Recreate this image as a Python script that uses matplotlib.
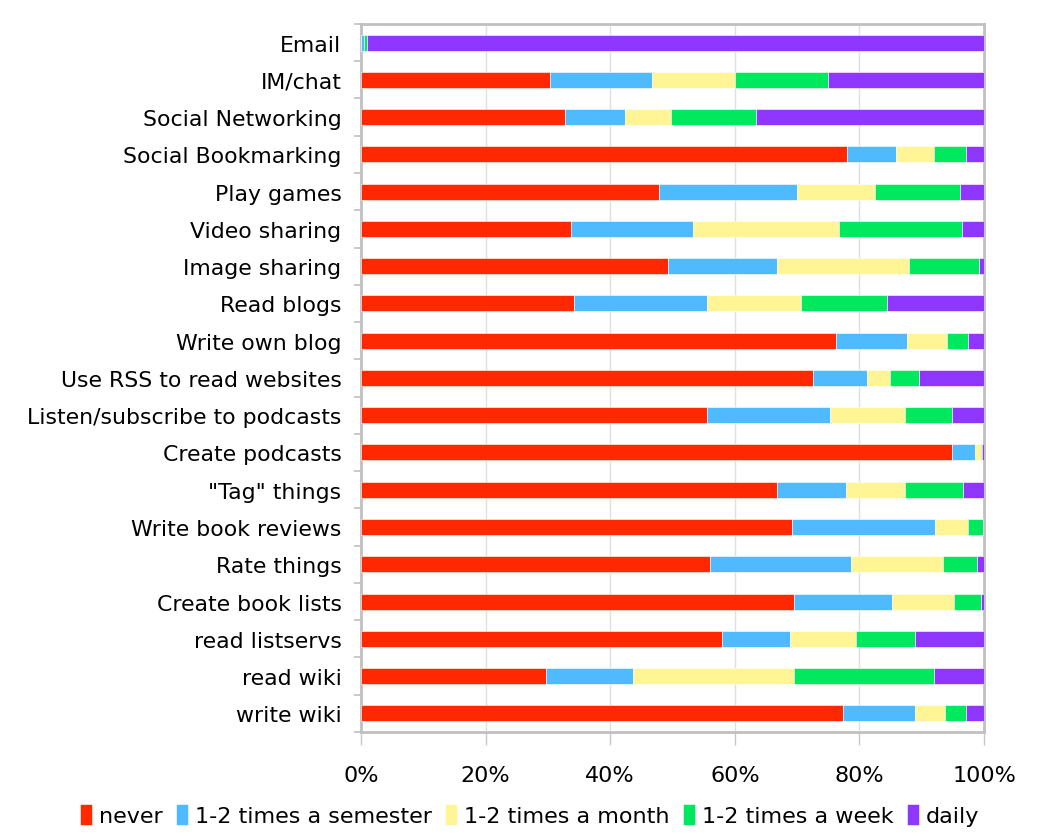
import matplotlib
matplotlib.use("Agg")
import matplotlib.pyplot as plt
import numpy as np
from matplotlib.ticker import FixedLocator, PercentFormatter

categories = [
    "Email", "IM/chat", "Social Networking", "Social Bookmarking", "Play games",
    "Video sharing", "Image sharing", "Read blogs", "Write own blog",
    "Use RSS to read websites", "Listen/subscribe to podcasts", "Create podcasts",
    '"Tag" things', "Write book reviews", "Rate things", "Create book lists",
    "read listservs", "read wiki", "write wiki",
]

# cumulative boundaries (percent)
never = [0.0, 30.3, 32.7, 78.0, 47.9, 33.7, 49.3, 34.2, 76.3, 72.5, 55.5, 94.9,
         66.7, 69.1, 56.0, 69.5, 57.9, 29.7, 77.3]
semester_cum = [0.4, 46.7, 42.4, 85.8, 70.0, 53.3, 66.7, 55.5, 87.6, 81.2, 75.2, 98.5,
                77.9, 92.1, 78.6, 85.2, 68.9, 43.7, 88.9]
month_cum = [0.4, 60.0, 49.7, 91.9, 82.5, 76.7, 87.9, 70.7, 94.0, 84.9, 87.3, 99.5,
             87.3, 97.4, 93.4, 95.2, 79.4, 69.5, 93.7]
week_cum = [0.9, 74.9, 63.4, 97.1, 96.1, 96.5, 99.2, 84.4, 97.4, 89.5, 94.9, 99.7,
            96.7, 99.8, 98.9, 99.5, 88.9, 91.9, 97.1]

series_names = ["never", "1-2 times a semester", "1-2 times a month",
                "1-2 times a week", "daily"]
colors = ["#ff2800", "#50baff", "#fff594", "#00e85e", "#8f36ff"]

cum = np.array([never, semester_cum, month_cum, week_cum, [100.0] * len(categories)])
starts = np.vstack([np.zeros(len(categories)), cum[:-1]])
widths = cum - starts

fig = plt.figure(figsize=(10.38, 8.37), dpi=100)
ax = fig.add_axes([0.3478, 0.1243, 0.6002, 0.8459])

y = np.arange(len(categories))
for i, name in enumerate(series_names):
    ax.barh(y, widths[i], left=starts[i], height=0.43, color=colors[i],
            edgecolor="white", linewidth=0.4, label=name, zorder=3)

ax.set_xlim(0, 100)
ax.set_ylim(len(categories) - 0.5, -0.5)
ax.xaxis.set_major_locator(FixedLocator([0, 20, 40, 60, 80, 100]))
ax.xaxis.set_major_formatter(PercentFormatter(decimals=0))
ax.grid(axis="x", color="#e0e0e0", linewidth=1, zorder=0)

ax.set_yticks(y)
ax.set_yticklabels(categories, fontsize=15.8)
ax.yaxis.set_minor_locator(FixedLocator(np.arange(len(categories) + 1) - 0.5))
ax.tick_params(axis="y", which="major", length=0, pad=14)
ax.tick_params(axis="y", which="minor", length=5, color="#c0c0c0", width=1.2)
ax.tick_params(axis="x", length=9, color="#c8c8c8", width=1, labelsize=16, pad=15)

for s in ax.spines.values():
    s.set_color("#c0c0c0")
    s.set_linewidth(2)

fig.legend(loc="lower center", bbox_to_anchor=(0.51, -0.012), ncol=5, frameon=False,
           fontsize=16, handlelength=0.55, handleheight=1.1, handletextpad=0.3,
           columnspacing=0.6)

fig.savefig("out.png", dpi=100)
